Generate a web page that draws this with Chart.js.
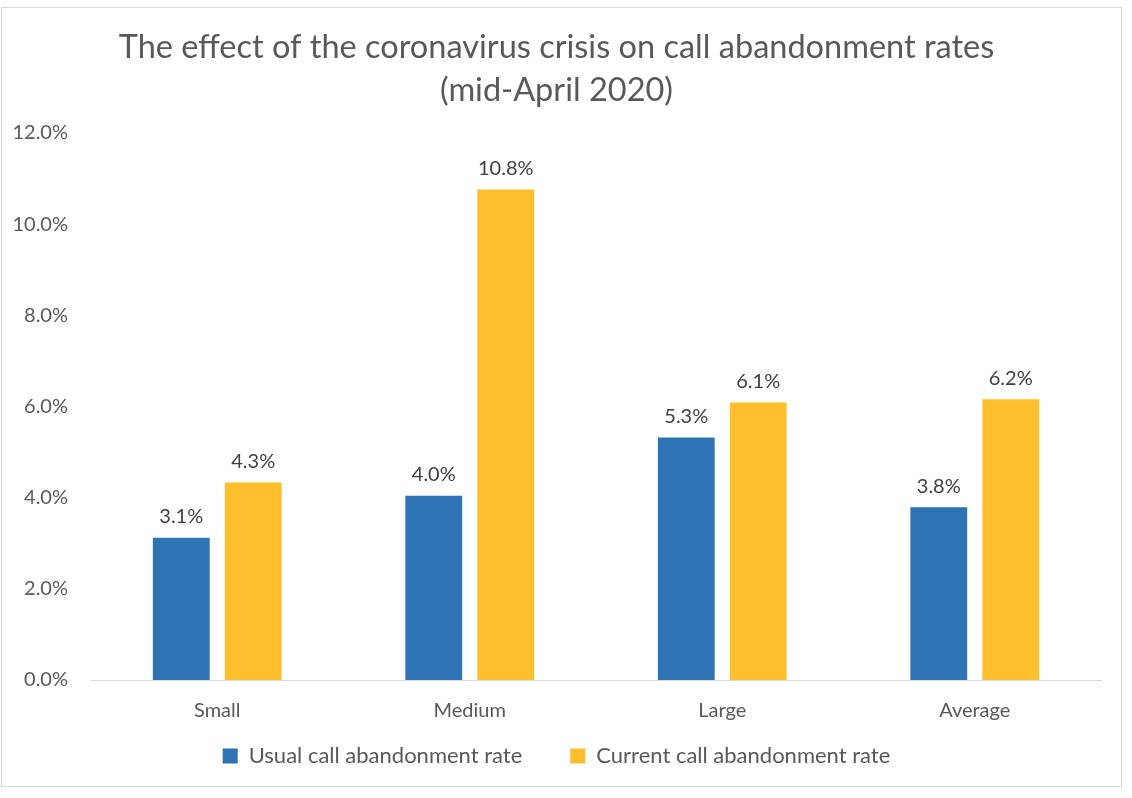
<!DOCTYPE html>
<html>
<head>
<meta charset="utf-8">
<script src="https://cdn.jsdelivr.net/npm/chart.js@4.4.0/dist/chart.umd.min.js"></script>
<style>
  html, body { margin: 0; padding: 0; background: #ffffff; }
  #wrap { width: 1132px; height: 798px; position: relative; }
</style>
</head>
<body>
<div id="wrap"><canvas id="c" width="1132" height="798"></canvas></div>
<script>
const categories = ['Small', 'Medium', 'Large', 'Average'];
const usualRate = [3.12, 4.04, 5.32, 3.79];
const currentRate = [4.33, 10.76, 6.09, 6.16];
const seriesNames = ['Usual call abandonment rate', 'Current call abandonment rate'];
const titleLines = ['The effect of the coronavirus crisis on call abandonment rates', '(mid-April 2020)'];
const yMin = 0, yMax = 12, yStep = 2;

const FONT = 'Lato, "Open Sans", sans-serif';

const borderPlugin = {
  id: 'frame',
  beforeDraw(chart) {
    const ctx = chart.ctx;
    ctx.save();
    ctx.fillStyle = '#ffffff';
    ctx.fillRect(0, 0, chart.width, chart.height);
    ctx.strokeStyle = '#d9d9d9';
    ctx.lineWidth = 1;
    ctx.strokeRect(1.5, 7.5, 1120, 779);
    ctx.restore();
  }
};

const valueLabels = {
  id: 'valueLabels',
  afterDatasetsDraw(chart) {
    const ctx = chart.ctx;
    ctx.save();
    ctx.font = '20px ' + FONT;
    ctx.fillStyle = '#404040';
    ctx.textAlign = 'center';
    ctx.textBaseline = 'middle';
    chart.data.datasets.forEach((ds, di) => {
      const meta = chart.getDatasetMeta(di);
      meta.data.forEach((bar, i) => {
        ctx.fillText(ds.data[i].toFixed(1) + '%', bar.x, bar.y - 21);
      });
    });
    ctx.restore();
  }
};

new Chart(document.getElementById('c'), {
  type: 'bar',
  data: {
    labels: categories,
    datasets: [
      { label: seriesNames[0], data: usualRate, backgroundColor: '#2E74B5', barPercentage: 0.79, categoryPercentage: 0.57 },
      { label: seriesNames[1], data: currentRate, backgroundColor: '#FDBF2D', barPercentage: 0.79, categoryPercentage: 0.57 }
    ]
  },
  options: {
    responsive: false,
    animation: false,
    devicePixelRatio: 1,
    layout: { padding: { left: 12, right: 31, top: 0, bottom: 21 } },
    plugins: {
      tooltip: { enabled: false },
      title: {
        display: true,
        text: titleLines,
        color: '#595959',
        font: { family: FONT, size: 32.5, weight: 'normal', lineHeight: 1.323 },
        padding: { top: 26.5, bottom: 20.5 }
      },
      legend: {
        display: true,
        position: 'bottom',
        title: { display: true, text: '', font: { size: 1, lineHeight: 1 }, padding: { top: -13.5, bottom: -13.5 } },
        labels: {
          color: '#595959',
          font: { family: FONT, size: 22 },
          boxWidth: 15,
          boxHeight: 15,
          padding: 48
        }
      }
    },
    scales: {
      x: {
        grid: { display: false, drawTicks: false },
        border: { display: true, color: '#d9d9d9', width: 1 },
        ticks: { color: '#595959', font: { family: FONT, size: 20 }, padding: 19 },
        afterFit(scale) { scale.height = 43; }
      },
      y: {
        min: yMin, max: yMax,
        grid: { display: false, drawTicks: false },
        border: { display: false },
        ticks: {
          stepSize: yStep,
          color: '#595959',
          font: { family: FONT, size: 20 },
          padding: 23,
          callback: (v) => v.toFixed(1) + '%'
        },
        afterFit(scale) { scale.width = 79; }
      }
    }
  },
  plugins: [borderPlugin, valueLabels]
});
</script>
</body>
</html>
